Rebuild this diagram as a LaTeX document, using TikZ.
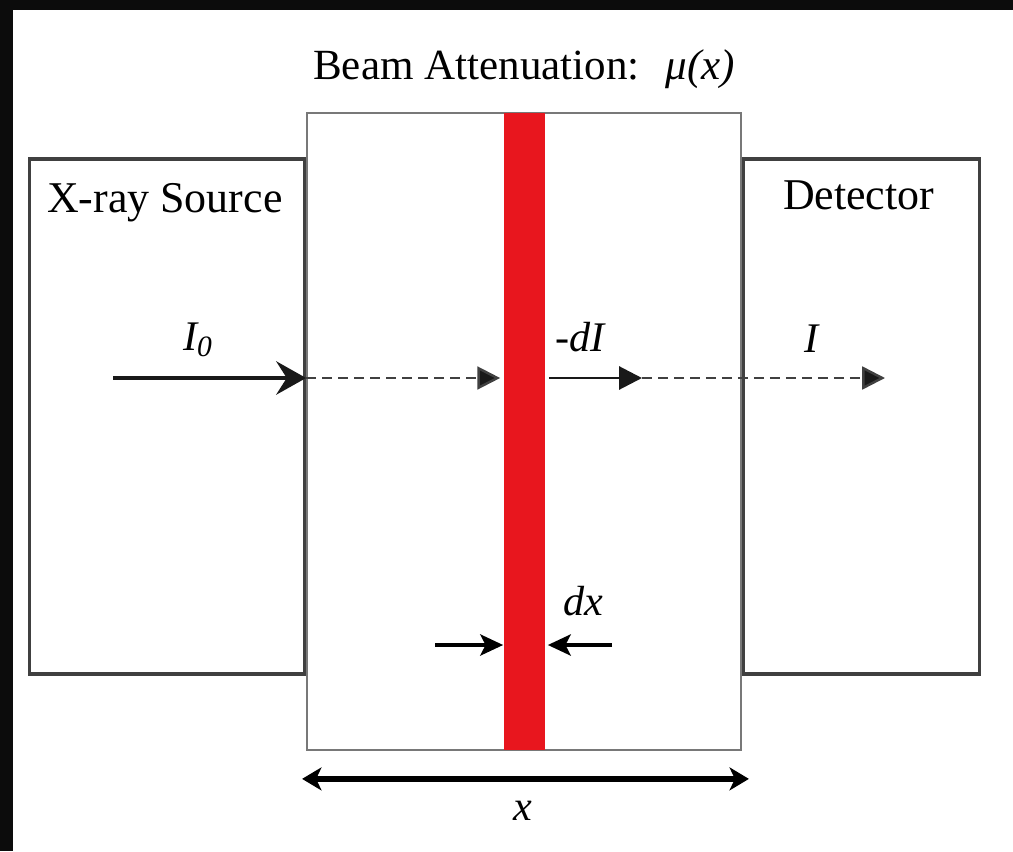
\documentclass[tikz,border=0pt]{standalone}
\usepackage{fontspec}
\setmainfont{Liberation Serif}
\usepackage{tikz}
\usetikzlibrary{positioning, arrows.meta, calc}

\definecolor{slabred}{RGB}{232,22,30}
\definecolor{edgegray}{RGB}{64,64,64}
\definecolor{thingray}{RGB}{120,120,120}
\definecolor{framebk}{RGB}{12,12,12}

\begin{document}
\begin{tikzpicture}[
    x=0.02cm, y=-0.02cm,
    % Box Styles
    unit/.style={rectangle, draw=edgegray, line width=2pt, fill=white, minimum height=10.3cm, inner sep=0pt},
    medium/.style={rectangle, draw=thingray, line width=1.1pt, fill=white, minimum width=8.68cm, minimum height=12.74cm, inner sep=0pt},
    slab/.style={rectangle, fill=slabred, minimum width=0.82cm, minimum height=12.74cm, inner sep=0pt},
    % Text Styles
    boxtext/.style={anchor=base, inner sep=0pt, font=\fontsize{25}{30}\selectfont},
    heading/.style={anchor=base, inner sep=0pt, font=\fontsize{24.5}{29}\selectfont},
    sym/.style={anchor=base, inner sep=0pt, font=\fontsize{24}{29}\selectfont\itshape},
    % Line & Arrow Styles
    beam/.style={draw=black!90, line width=2.2pt, -{Stealth[length=17pt, width=19pt, inset=6pt]}},
    ray/.style={draw=black!90, line width=1.7pt, -{Triangle[length=13pt, width=13pt]}},
    trace/.style={draw=black!75, line width=1.4pt, dash pattern=on 0.2cm off 0.12cm, -{Triangle[length=13pt, width=13pt, fill=black!90]}},
    gauge/.style={draw=black, line width=2.3pt, -{Stealth[length=13pt, width=12pt, inset=3pt]}},
    extent/.style={draw=black, line width=3.2pt, {Stealth[length=11pt, width=13pt, inset=3pt]}-{Stealth[length=11pt, width=13pt, inset=3pt]}}
]

    % Frame
    \fill[white] (0,0) rectangle (1013,851);
    \fill[framebk] (0,0) rectangle (1013,10);
    \fill[framebk] (0,0) rectangle (13,851);
    \useasboundingbox (0,0) rectangle (1013,851);

    % Boxes
    \node [medium] (medium) at (524,431.5) {};
    \node [slab] (slab) at (medium) {};
    \node [unit, minimum width=5.5cm, anchor=north east] (source) at ([yshift=-0.9cm]medium.north west) {};
    \node [unit, minimum width=4.72cm, anchor=north west] (detector) at ([yshift=-0.9cm]medium.north east) {};

    % Labels
    \node [heading] (title) at ([yshift=0.66cm]medium.north) {Beam Attenuation:\hspace{0.6em}\textit{μ(x)}};
    \node [boxtext] (sourcetext) at ([xshift=-0.04cm, yshift=-1.1cm]source.north) {X-ray Source};
    \node [boxtext] (detectortext) at ([xshift=-0.06cm, yshift=-1.04cm]detector.north) {Detector};

    % Beam path
    \coordinate (beamin) at (113,378);
    \coordinate (entry) at (medium.west |- beamin);
    \coordinate (exitpt) at (642,378);
    \coordinate (beamout) at (885,378);
    \draw [beam] (beamin) -- (entry);
    \draw [trace] (entry) -- ([xshift=-0.06cm]slab.west |- entry);
    \draw [ray] ([xshift=0.08cm]slab.east |- entry) -- (exitpt);
    \draw [trace] (exitpt) -- (beamout);
    \node [sym] (inlabel) at (198,350) {I\textsubscript{0}};
    \node [sym] (losslabel) at (580,351) {-dI};
    \node [sym] (outlabel) at (812,352) {I};

    % Slab thickness
    \coordinate (dxleft) at (435,645);
    \coordinate (dxright) at (612,645);
    \draw [gauge] (dxleft) -- (slab.west |- dxleft);
    \draw [gauge] (dxright) -- ([xshift=0.06cm]slab.east |- dxright);
    \node [sym] (dxlabel) at (583,615) {dx};

    % Total depth
    \draw [extent] ([xshift=-0.08cm, yshift=-0.56cm]medium.south west) -- ([xshift=0.14cm, yshift=-0.56cm]medium.south east);
    \node [sym] (depthlabel) at (523,820) {x};

\end{tikzpicture}
\end{document}
